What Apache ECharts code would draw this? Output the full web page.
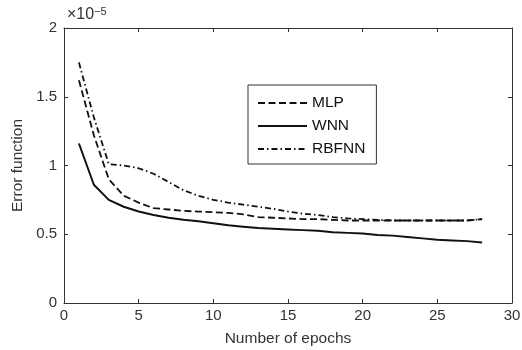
<!DOCTYPE html>
<html>
<head>
<meta charset="utf-8">
<script src="https://cdn.jsdelivr.net/npm/echarts@6/dist/echarts.min.js"></script>
<style>html,body{margin:0;padding:0;background:#fff}#c{width:522px;height:350px}</style>
</head>
<body>
<div id="c"></div>
<script>
var epochs = [1,2,3,4,5,6,7,8,9,10,11,12,13,14,15,16,17,18,19,20,21,22,23,24,25,26,27,28];
var mlp = [1.62,1.22,0.90,0.78,0.73,0.69,0.68,0.67,0.665,0.66,0.655,0.645,0.625,0.62,0.615,0.61,0.61,0.605,0.60,0.60,0.60,0.60,0.60,0.60,0.60,0.60,0.60,0.61];
var wnn = [1.16,0.86,0.75,0.70,0.665,0.64,0.62,0.605,0.595,0.58,0.565,0.555,0.545,0.54,0.535,0.53,0.525,0.515,0.51,0.505,0.495,0.49,0.48,0.47,0.46,0.455,0.45,0.44];
var rbfnn = [1.75,1.35,1.01,1.00,0.98,0.94,0.88,0.82,0.78,0.75,0.73,0.715,0.70,0.685,0.665,0.65,0.64,0.625,0.615,0.61,0.605,0.60,0.60,0.60,0.60,0.60,0.60,0.61];
var seriesNames = ['MLP','WNN','RBFNN'];
var xTicks = [0,5,10,15,20,25,30];
var yTicks = [0,0.5,1,1.5,2];

function pairs(v){ return epochs.map(function(e,i){ return [e, v[i]]; }); }
var font = 'Liberation Sans, Arial, sans-serif';
var ax = {color:'#333', width:1};
var chart = echarts.init(document.getElementById('c'));
chart.setOption({
  animation:false,
  backgroundColor:'#fff',
  grid:{left:64, right:10, top:28, bottom:47, containLabel:false, outerBoundsMode:'none'},
  xAxis:[
    {type:'value', min:0, max:30, interval:5, position:'bottom',
     axisLine:{show:true,onZero:false,lineStyle:ax}, axisTick:{show:true,inside:true,length:4,lineStyle:ax},
     splitLine:{show:false},
     axisLabel:{color:'#333',fontSize:15,fontFamily:font,margin:5,formatter:function(v){return xTicks.indexOf(v)>=0?String(v):'';}},
     name:'Number of epochs', nameLocation:'middle', nameGap:28,
     nameTextStyle:{color:'#333',fontSize:15.5,fontFamily:font}},
    {type:'value', min:0, max:30, interval:5, position:'top',
     axisLine:{show:true,onZero:false,lineStyle:ax}, axisTick:{show:true,inside:true,length:4,lineStyle:ax},
     splitLine:{show:false}, axisLabel:{show:false}}
  ],
  yAxis:[
    {type:'value', min:0, max:2, interval:0.5, position:'left',
     axisLine:{show:true,onZero:false,lineStyle:ax}, axisTick:{show:true,inside:true,length:4,lineStyle:ax},
     splitLine:{show:false},
     axisLabel:{color:'#333',fontSize:15,fontFamily:font,margin:7,formatter:function(v){return yTicks.indexOf(v)>=0?String(v):'';}},
     name:'Error function', nameLocation:'middle', nameGap:37, nameRotate:90,
     nameTextStyle:{color:'#333',fontSize:15.5,fontFamily:font}},
    {type:'value', min:0, max:2, interval:0.5, position:'right',
     axisLine:{show:true,onZero:false,lineStyle:ax}, axisTick:{show:true,inside:true,length:4,lineStyle:ax},
     splitLine:{show:false}, axisLabel:{show:false}}
  ],
  legend:{
    orient:'vertical', left:248, top:85,
    data:seriesNames,
    itemWidth:49, itemHeight:14, itemGap:7,
    padding:[10,11,7,9],
    borderColor:'#333', borderWidth:1,
    itemStyle:{opacity:0},
    textStyle:{color:'#111',fontSize:15.5,fontFamily:font}
  },
  graphic:[{
    type:'text', left:67, top:6,
    style:{text:'{a|×10}{b|−5}', rich:{a:{fontSize:16,fontFamily:font,fill:'#333'}, b:{fontSize:11,fontFamily:font,fill:'#333',verticalAlign:'top',padding:[0,0,7,0]}}}
  }],
  series:[
    {name:'MLP', type:'line', data:pairs(mlp), showSymbol:false, symbol:'none',
     lineStyle:{color:'#111', width:1.8, type:[7,3.5]}, itemStyle:{color:'#111'}},
    {name:'WNN', type:'line', data:pairs(wnn), showSymbol:false, symbol:'none',
     lineStyle:{color:'#111', width:2, type:'solid'}, itemStyle:{color:'#111'}},
    {name:'RBFNN', type:'line', data:pairs(rbfnn), showSymbol:false, symbol:'none',
     lineStyle:{color:'#111', width:1.8, type:[6,3,1.5,3]}, itemStyle:{color:'#111'}}
  ]
});
</script>
</body>
</html>
